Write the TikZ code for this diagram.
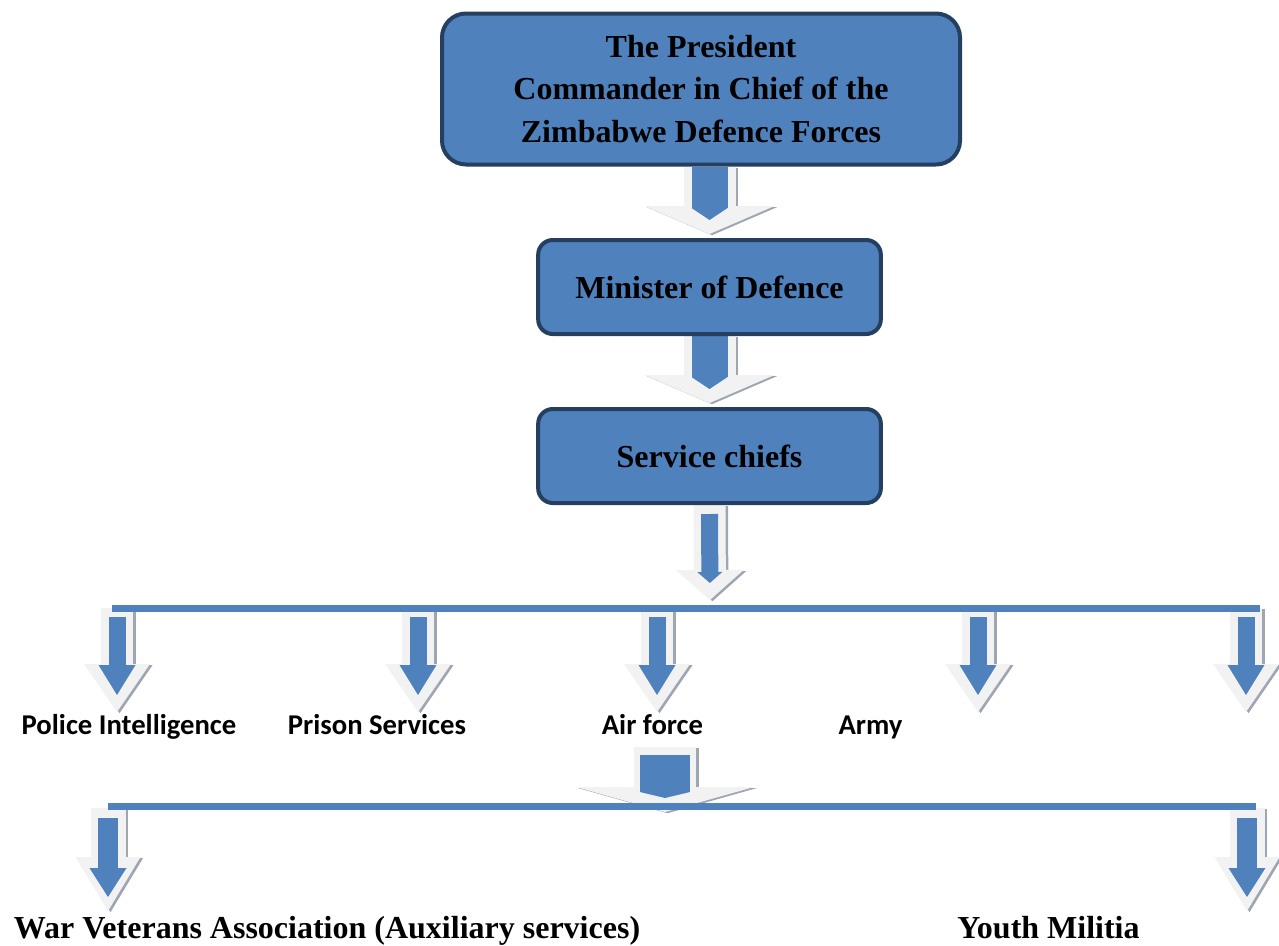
\documentclass[tikz,border=0pt]{standalone}
\usepackage{fontspec}
\setmainfont{Liberation Serif}
\newfontfamily\calfont{Carlito}
\usetikzlibrary{arrows.meta,backgrounds}

\definecolor{boxblue}{HTML}{4F81BD}
\definecolor{boxedge}{HTML}{243F60}
\definecolor{arrowface}{HTML}{F2F2F2}
\definecolor{arrowshade}{HTML}{9EA6B2}

\tikzset{
  box/.style={draw=boxedge, line width=3pt, fill=boxblue, rounded corners=11pt,
    minimum width=257pt, minimum height=70.5pt, align=center,
    font=\bfseries\fontsize{24}{32}\selectfont},
  bigbox/.style={box, rounded corners=18pt, minimum width=388.5pt, minimum height=113.25pt},
  lbl/.style={anchor=base, font=\calfont\bfseries\fontsize{21.5}{26}\selectfont},
  sublbl/.style={anchor=base, font=\bfseries\fontsize{24}{30}\selectfont},
  bar/.style={boxblue, line width=5.25pt},
  shd/.style={arrowshade, transform canvas={shift={(2.5,1.2)}}},
  % block arrow sizes: out = light outline, in = blue core
  outA/.style={line width=39pt, shorten >=3pt, -{Triangle[width=97.5pt,length=21pt,line width=0pt]}},
  inA/.style={line width=27pt, shorten >=13.5pt, -{Triangle[width=27pt,length=9pt,line width=0pt]}},
  outB/.style={line width=24pt, shorten >=6pt, -{Triangle[width=51pt,length=22.5pt,line width=0pt]}},
  inB/.style={line width=12.75pt, shorten <=6.75pt, shorten >=18.75pt, -{Triangle[width=18.75pt,length=8.25pt,line width=0pt]}},
  outC/.style={line width=24pt, -{Triangle[width=49.5pt,length=36pt,line width=0pt]}},
  inC/.style={line width=12.75pt, shorten <=6.75pt, shorten >=12.75pt, -{Triangle[width=27.75pt,length=22.5pt,line width=0pt]}},
  outD/.style={line width=46.5pt, -{Triangle[width=133.5pt,length=18.75pt,line width=0pt]}},
  inD/.style={line width=37.5pt, shorten <=6pt, shorten >=10.5pt, -{Triangle[width=37.5pt,length=4.5pt,line width=0pt]}},
  outE/.style={line width=26.25pt, -{Triangle[width=48.75pt,length=40.5pt,line width=0pt]}},
  inE/.style={line width=15pt, shorten <=7.5pt, shorten >=10.5pt, -{Triangle[width=27.75pt,length=21.75pt,line width=0pt]}},
}

\newcommand{\blockarrow}[4]{%
  \draw[#3, shd] #1 -- #2;
  \draw[#3, arrowface] #1 -- #2;
  \draw[#4, boxblue] #1 -- #2;
}

\begin{document}
\begin{tikzpicture}[x=0.75pt, y=-0.75pt]
  \useasboundingbox (0,0) rectangle (1279,946);

  % Boxes
  \node[bigbox] (pres) at (701,89) {The President\\Commander in Chief of the\\Zimbabwe Defence Forces};
  \node[box]    (min)  at (709.5,287) {Minister of Defence};
  \node[box]    (svc)  at (709.5,456) {Service chiefs};

  % Bars
  \coordinate (bar1l) at (112,608);
  \coordinate (bar1r) at (1260,608);
  \coordinate (bar1c) at (710,608);
  \coordinate (bar2l) at (108,806);
  \coordinate (bar2r) at (1256,806);

  % Services
  \node[lbl] (police) at (129,734)   {Police Intelligence};
  \node[lbl] (prison) at (377,734)   {Prison Services};
  \node[lbl] (air)    at (652.5,734) {Air force};
  \node[lbl] (army)   at (870.5,734) {Army};

  % Auxiliaries
  \node[sublbl] (vets)  at (327,938)    {War Veterans Association (Auxiliary services)};
  \node[sublbl] (youth) at (1048.5,938) {Youth Militia};

  \coordinate (aux1) at (665,747);
  \coordinate (aux2) at (665,812);

  \begin{pgfonlayer}{background}
    \blockarrow{(pres.south -| min.north)}{(min.north)}{outA}{inA}
    \blockarrow{(min.south)}{(svc.north)}{outA}{inA}
    \blockarrow{(svc.south)}{(bar1c)}{outB}{inB}
    \foreach \x [count=\i] in {117,418,657,978,1246} {
      \coordinate (top\i) at (\x,608);
      \coordinate (tip\i) at (\x,712);
      \blockarrow{(top\i)}{(tip\i)}{outC}{inC}
    }
    \blockarrow{(aux1)}{(aux2)}{outD}{inD}
    \foreach \x [count=\i] in {108,1247} {
      \coordinate (low\i) at (\x,808);
      \coordinate (end\i) at (\x,911);
      \blockarrow{(low\i)}{(end\i)}{outE}{inE}
    }
  \end{pgfonlayer}

  \draw[bar] (bar1l) -- (bar1r);
  \draw[bar] (bar2l) -- (bar2r);
\end{tikzpicture}
\end{document}
